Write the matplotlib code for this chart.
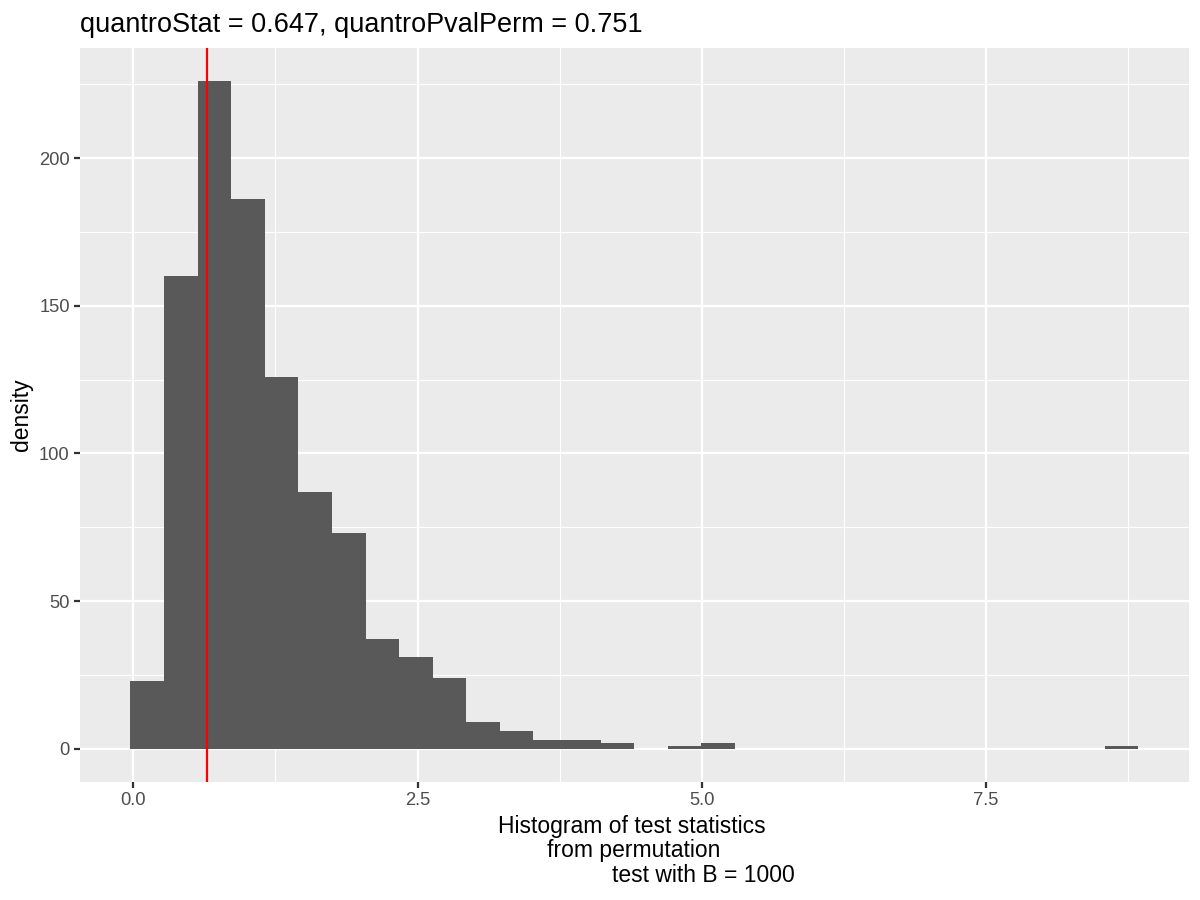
import numpy as np
import matplotlib
matplotlib.use("Agg")
import matplotlib.pyplot as plt

plt.rcParams['font.family'] = ['Liberation Sans', 'DejaVu Sans']

# ---- data ----
bin_counts = [23, 160, 226, 186, 126, 87, 73, 37, 31, 24,
              9, 6, 3, 3, 2, 0, 1, 2, 0, 0,
              0, 0, 0, 0, 0, 0, 0, 0, 0, 1]
stat_min = 0.121      # smallest permutation statistic (centre of first bin)
stat_max = 8.692      # largest permutation statistic (centre of last bin)
n_bins = 30
quantro_stat = 0.647
quantro_pval = 0.751
title_text = "quantroStat = 0.647, quantroPvalPerm = 0.751"
xlabel_lines = ["Histogram of test statistics", "from permutation", "test with B = 1000"]
ylabel_text = "density"
x_major = [0.0, 2.5, 5.0, 7.5]
x_minor = [1.25, 3.75, 6.25, 8.75]
y_major = [0, 50, 100, 150, 200]
y_minor = [25, 75, 125, 175, 225]

# ggplot2-like binning: bins centred on min and max
bw = (stat_max - stat_min) / (n_bins - 1)
edges = stat_min - bw / 2 + bw * np.arange(n_bins + 1)

W, H = 1200, 900
fig = plt.figure(figsize=(8, 6), dpi=150)
L, R, T, B = 80, 1188.5, 48, 782
ax = fig.add_axes([L / W, 1 - B / H, (R - L) / W, (B - T) / H])
ax.set_facecolor('#EBEBEB')
for s in ax.spines.values():
    s.set_visible(False)

ax.bar(edges[:-1], bin_counts, width=bw, align='edge', color='#595959', linewidth=0, zorder=2)
ax.axvline(quantro_stat, color='red', linewidth=1.07, zorder=3)

# expansion 5%
x0, x1 = edges[0], edges[-1]
dx = (x1 - x0) * 0.05
ax.set_xlim(x0 - dx, x1 + dx)
ymax = max(bin_counts)
ax.set_ylim(-0.05 * ymax, ymax * 1.05)

ax.set_xticks(x_major)
ax.set_xticklabels([f"{v:.1f}" for v in x_major])
ax.set_xticks(x_minor, minor=True)
ax.set_yticks(y_major)
ax.set_yticklabels([str(v) for v in y_major])
ax.set_yticks(y_minor, minor=True)

ax.grid(which='major', color='white', linewidth=1.07, zorder=0)
ax.grid(which='minor', color='white', linewidth=0.53, zorder=0)
ax.set_axisbelow(True)
ax.tick_params(which='major', length=2.75, width=1.07, color='#333333',
               labelsize=8.8, labelcolor='#4D4D4D', pad=2.2)
ax.tick_params(which='minor', length=0)

fig.text(L / W, 1 - 32 / H, title_text, ha='left', va='baseline', fontsize=13.05, color='black')
fig.text(21.7 / W, 1 - (T + B) / 2 / H, ylabel_text, rotation=90, ha='center', va='center',
         fontsize=11, color='black')
line_x = [632, 634, 703.3]
line_y = [832.7, 857.3, 881.7]
for txt, lx, ly in zip(xlabel_lines, line_x, line_y):
    fig.text(lx / W, 1 - ly / H, txt, ha='center', va='baseline', fontsize=11, color='black')

fig.savefig('out.png', dpi=150)
